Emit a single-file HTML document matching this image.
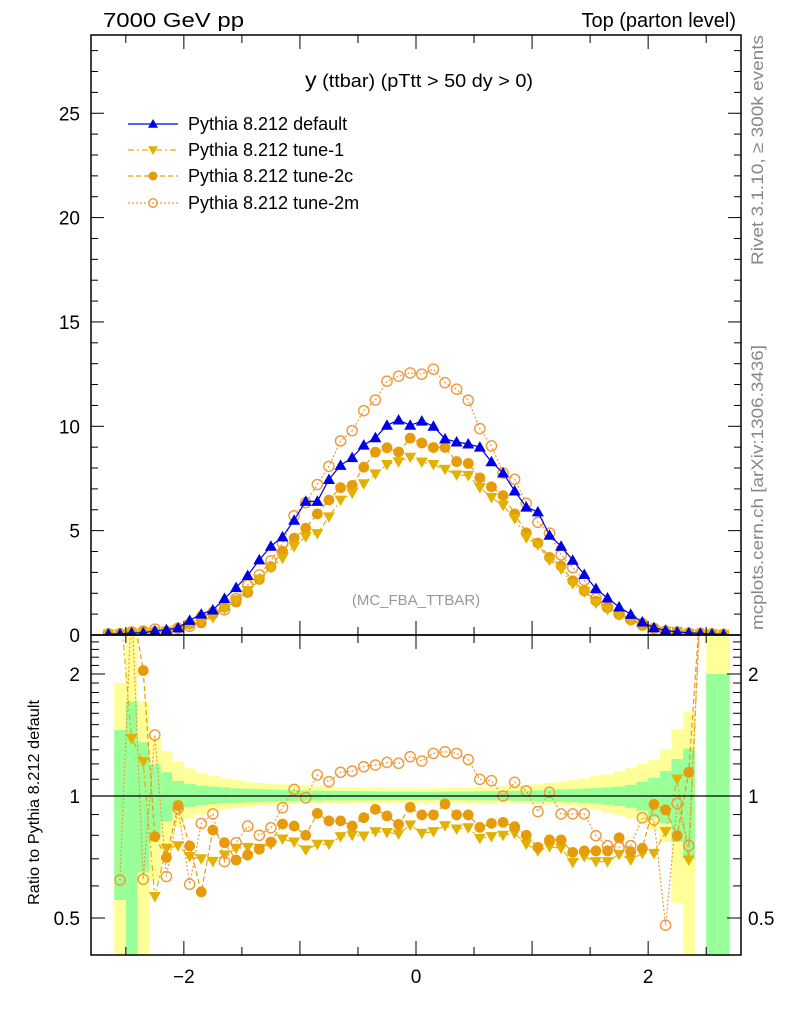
<!DOCTYPE html>
<html><head><meta charset="utf-8"><style>
body{margin:0;background:#fff}
svg text{font-family:"Liberation Sans",sans-serif}
</style></head><body>
<svg id="c" width="786" height="1024" viewBox="0 0 786 1024" xmlns="http://www.w3.org/2000/svg">
<defs>
<clipPath id="cm"><rect x="91" y="35" width="650" height="600"/></clipPath>
<clipPath id="cr"><rect x="91" y="635" width="650" height="320"/></clipPath>
</defs>
<g id="bands" clip-path="url(#cr)"></g>
<g id="ratio" clip-path="url(#cr)"></g>
<g id="main" clip-path="url(#cm)"></g>
<g id="axes"></g>
<text x="103" y="27" font-size="20" textLength="141" lengthAdjust="spacingAndGlyphs">7000 GeV pp</text>
<text x="736" y="27" font-size="20" text-anchor="end">Top (parton level)</text>
<text x="305" y="87" font-size="18" textLength="228" lengthAdjust="spacingAndGlyphs"><tspan font-size="21">y</tspan> (ttbar) (pTtt &gt; 50 dy &gt; 0)</text>
<text x="416" y="605" font-size="15" fill="#999" text-anchor="middle">(MC_FBA_TTBAR)</text>
<text transform="translate(763,265) rotate(-90)" font-size="17" fill="#888" textLength="230" lengthAdjust="spacingAndGlyphs">Rivet 3.1.10, ≥ 300k events</text>
<text transform="translate(763,630) rotate(-90)" font-size="17" fill="#888" textLength="285" lengthAdjust="spacingAndGlyphs">mcplots.cern.ch [arXiv:1306.3436]</text>
<text transform="translate(39,905) rotate(-90)" font-size="16" textLength="205" lengthAdjust="spacingAndGlyphs">Ratio to Pythia 8.212 default</text>
<g id="legend"></g>
</svg>
<script>
const centers=[-2.65,-2.55,-2.45,-2.35,-2.25,-2.15,-2.05,-1.95,-1.85,-1.75,-1.65,-1.55,-1.45,-1.35,-1.25,-1.15,-1.05,-0.95,-0.85,-0.75,-0.65,-0.55,-0.45,-0.35,-0.25,-0.15,-0.05,0.05,0.15,0.25,0.35,0.45,0.55,0.65,0.75,0.85,0.95,1.05,1.15,1.25,1.35,1.45,1.55,1.65,1.75,1.85,1.95,2.05,2.15,2.25,2.35,2.45,2.55,2.65];
const vDefault=[0.05,0.05,0.1,0.1,0.2,0.25,0.34,0.7,1.0,1.2,1.75,2.27,2.85,3.6,4.25,4.7,5.5,6.4,6.4,7.45,8.13,8.5,9.1,9.45,10.05,10.3,10.05,10.25,10.0,9.4,9.25,9.15,9.0,8.3,7.76,6.9,6.13,5.9,4.78,4.25,3.58,2.9,2.22,1.77,1.34,0.99,0.62,0.35,0.22,0.15,0.1,0.08,0.05,0.03];
const vTune1=[0.05,0.05,0.1,0.1,0.11,0.19,0.26,0.5,0.7,0.83,1.25,1.69,2.13,2.67,3.23,3.68,4.24,4.71,4.86,5.66,6.46,6.8,7.25,7.72,8.17,8.3,8.52,8.29,8.17,7.94,7.67,7.64,7.07,6.59,6.21,5.58,4.66,4.32,3.59,3.16,2.46,2.06,1.53,1.22,0.96,0.69,0.45,0.25,0.18,0.17,0.07,0.05,0.04,0.03];
const vTune2c=[0.05,0.08,0.1,0.2,0.16,0.18,0.32,0.53,0.58,0.99,1.34,1.58,2.04,2.66,3.27,4.01,4.64,5.12,5.8,6.47,7.06,7.17,8.04,8.76,8.97,8.77,9.43,9.2,8.98,8.99,8.31,8.22,7.53,7.1,6.68,5.8,4.9,4.41,3.72,3.31,2.6,2.12,1.63,1.3,1.06,0.72,0.46,0.33,0.2,0.12,0.11,0.1,0.06,0.04];
const vTune2m=[0.05,0.03,0.15,0.06,0.28,0.16,0.32,0.42,0.86,1.08,1.21,1.74,2.4,2.88,3.55,4.4,5.71,6.34,7.21,8.08,9.3,9.79,10.75,11.26,12.16,12.4,12.56,12.5,12.74,12.09,11.78,11.25,9.89,9.06,7.76,7.46,6.31,5.4,4.88,3.84,3.23,2.62,1.77,1.33,1.0,0.75,0.55,0.31,0.11,0.14,0.08,0.05,0.05,0.03];
const rTune1=[null,3,1.387,1.215,0.565,0.743,0.754,0.709,0.70,0.69,0.715,0.743,0.747,0.743,0.76,0.783,0.77,0.736,0.76,0.76,0.794,0.80,0.797,0.817,0.813,0.806,0.848,0.809,0.817,0.845,0.829,0.835,0.786,0.794,0.80,0.809,0.76,0.732,0.75,0.743,0.686,0.709,0.689,0.689,0.718,0.695,0.722,0.722,0.817,1.101,0.695,3,null,null];
const rTune2c=[null,3,3,2.04,0.794,0.705,0.947,0.753,0.58,0.824,0.767,0.695,0.715,0.739,0.77,0.853,0.843,0.80,0.906,0.868,0.868,0.843,0.884,0.927,0.893,0.851,0.938,0.898,0.898,0.956,0.898,0.898,0.837,0.856,0.861,0.84,0.80,0.747,0.779,0.779,0.726,0.732,0.732,0.732,0.789,0.729,0.743,0.954,0.924,0.798,1.144,3,null,null];
const rTune2m=[null,0.62,3,0.623,1.414,0.633,0.932,0.606,0.856,0.903,0.689,0.767,0.843,0.80,0.835,0.936,1.038,0.99,1.127,1.085,1.144,1.152,1.181,1.192,1.21,1.204,1.25,1.22,1.274,1.286,1.274,1.23,1.099,1.091,1.0,1.081,1.029,0.915,1.021,0.903,0.903,0.903,0.798,0.754,0.747,0.754,0.884,0.873,0.48,0.959,0.754,3,null,null];
const greenUp=[null,1.455,1.71,1.357,1.197,1.144,1.089,1.07,1.06,1.055,1.05,1.045,1.042,1.04,1.038,1.036,1.035,1.033,1.031,1.03,1.029,1.028,1.027,1.026,1.025,1.025,1.025,1.025,1.025,1.025,1.026,1.026,1.027,1.028,1.029,1.03,1.031,1.033,1.036,1.038,1.04,1.043,1.046,1.05,1.055,1.065,1.085,1.11,1.153,1.234,1.31,null,2.0,2.0];
const greenDn=[null,0.554,0.3,0.648,0.79,0.864,0.918,0.94,0.95,0.955,0.96,0.962,0.965,0.967,0.968,0.97,0.972,0.973,0.974,0.975,0.975,0.976,0.976,0.977,0.977,0.977,0.977,0.977,0.977,0.977,0.977,0.976,0.976,0.975,0.975,0.974,0.973,0.972,0.97,0.968,0.965,0.962,0.958,0.952,0.945,0.935,0.92,0.884,0.855,0.77,0.70,null,0.3,0.3];
const yellowUp=[null,1.90,3,1.71,1.388,1.29,1.215,1.17,1.14,1.12,1.105,1.095,1.085,1.078,1.072,1.068,1.064,1.06,1.057,1.054,1.051,1.049,1.047,1.046,1.045,1.045,1.045,1.045,1.045,1.046,1.047,1.049,1.051,1.054,1.057,1.06,1.064,1.07,1.078,1.085,1.095,1.105,1.12,1.13,1.15,1.175,1.2,1.227,1.306,1.46,1.61,null,3,3];
const yellowDn=[null,0.3,0.3,0.3,0.62,0.73,0.84,0.88,0.90,0.915,0.925,0.935,0.94,0.945,0.95,0.952,0.955,0.957,0.958,0.959,0.96,0.96,0.96,0.96,0.96,0.96,0.96,0.96,0.96,0.96,0.96,0.96,0.96,0.96,0.959,0.958,0.957,0.955,0.952,0.948,0.943,0.935,0.925,0.91,0.895,0.88,0.86,0.824,0.77,0.545,0.3,null,0.3,0.3];
const mainTicks=[0,5,10,15,20,25];
const ratioTicks=[0.5,1,2];
const xTicks=[-2,0,2];

const NS="http://www.w3.org/2000/svg";
const X0=91,X1=741,XMIN=-2.8,XMAX=2.8;
const xs=v=>X0+(v-XMIN)/(XMAX-XMIN)*(X1-X0);
const ym=v=>635-v*20.87;
const yr=r=>796-Math.log10(r)*405.3;
function mk(tag,attrs,parent){const e=document.createElementNS(NS,tag);for(const k in attrs)e.setAttribute(k,attrs[k]);parent.appendChild(e);return e;}
const gB=document.getElementById('bands'),gR=document.getElementById('ratio'),gM=document.getElementById('main'),gA=document.getElementById('axes'),gL=document.getElementById('legend');
const W=0.1;
centers.forEach((c,i)=>{
  if(yellowUp[i]==null)return;
  const x=xs(c-W/2),w=xs(c+W/2)-x;
  let r=mk('rect',{x:x,y:yr(yellowUp[i]),width:w+0.3,height:yr(yellowDn[i])-yr(yellowUp[i]),fill:'#ffff99'},gB);
  
  
  r=mk('rect',{x:x,y:yr(greenUp[i]),width:w+0.3,height:yr(greenDn[i])-yr(greenUp[i]),fill:'#99ff99'},gB);
  
  
});
const series=[
 {name:'default',col:'#0000e6',dash:'',m:'up',main:vDefault,ratio:null},
 {name:'tune-1',col:'#e3b100',dash:'6,3,2,3',m:'down',main:vTune1,ratio:rTune1},
 {name:'tune-2c',col:'#e69b0a',dash:'5,3',m:'dot',main:vTune2c,ratio:rTune2c},
 {name:'tune-2m',col:'#ee9a3c',dash:'2,2',m:'open',main:vTune2m,ratio:rTune2m}
];
function marker(type,x,y,col,parent,s){
  let e;
  if(type==='up')e=mk('polygon',{points:`${x},${y-s} ${x-s},${y+s*0.75} ${x+s},${y+s*0.75}`,fill:col},parent);
  else if(type==='down')e=mk('polygon',{points:`${x},${y+s} ${x-s},${y-s*0.75} ${x+s},${y-s*0.75}`,fill:col},parent);
  else if(type==='dot')e=mk('circle',{cx:x,cy:y,r:s*0.9,fill:col},parent);
  else e=mk('circle',{cx:x,cy:y,r:s*0.85,fill:'none',stroke:col,'stroke-width':1.4},parent);
  return e;
}
series.slice(1).forEach(s=>{
  let d='';
  s.ratio.forEach((v,i)=>{if(v==null)return;d+=(d?'L':'M')+xs(centers[i]).toFixed(1)+','+yr(v).toFixed(1);});
  const p=mk('path',{d:d,fill:'none',stroke:s.col,'stroke-width':1.2,'stroke-dasharray':s.dash},gR);
  
  
  s.ratio.forEach((v,i)=>{if(v==null)return;
    const m=marker(s.m,xs(centers[i]),yr(v),s.col,gR,6);
    
    
  });
});
[3,2,1,0].forEach(k=>{const s=series[k];
  let d='';
  s.main.forEach((v,i)=>{d+=(d?'L':'M')+xs(centers[i]).toFixed(1)+','+ym(v).toFixed(1);});
  const p=mk('path',{d:d,fill:'none',stroke:s.col,'stroke-width':1.2,'stroke-dasharray':s.dash},gM);
  
  
  s.main.forEach((v,i)=>{
    const m=marker(s.m,xs(centers[i]),ym(v),s.col,gM,6);
    
    
  });
});
let l1=mk('line',{x1:X0,x2:X1,y1:yr(1),y2:yr(1),stroke:'#000','stroke-width':1.3},gA);


let f=mk('rect',{x:X0,y:35,width:X1-X0,height:600,fill:'none',stroke:'#000','stroke-width':1.5},gA);


f=mk('rect',{x:X0,y:635,width:X1-X0,height:320,fill:'none',stroke:'#000','stroke-width':1.5},gA);


function tick(x1,y1,x2,y2){mk('line',{x1:x1,y1:y1,x2:x2,y2:y2,stroke:'#000','stroke-width':1},gA);}
for(let v=0;v<=28;v++){const y=ym(v);const L=v%5===0?13:7;tick(X0,y,X0+L,y);tick(X1,y,X1-L,y);}
mainTicks.forEach(v=>{const t=mk('text',{x:80,y:ym(v)+7,'font-size':19,'text-anchor':'end'},gA);t.textContent=v;
  
  });
const rmin=[0.4,0.5,0.6,0.7,0.8,0.9,1,1.1,1.2,1.3,1.4,1.5,1.6,1.7,1.8,1.9,2,2.1,2.2,2.3,2.4,2.5];
rmin.forEach(r=>{const y=yr(r);if(y<635||y>955)return;const L=(r===0.5||r===1||r===2)?14:8;tick(X0,y,X0+L,y);tick(X1,y,X1-L,y);});
ratioTicks.forEach(r=>{
  let t=mk('text',{x:80,y:yr(r)+7,'font-size':19,'text-anchor':'end'},gA);t.textContent=r;
  
  
  t=mk('text',{x:748,y:yr(r)+7,'font-size':19},gA);t.textContent=r;
  
  
});
for(let k=-5;k<=5;k++){const v=k*0.5;const x=xs(v);const L=(k%2===0)?14:8;
  tick(x,635,x,635-L);tick(x,35,x,35+L);tick(x,955,x,955-L);tick(x,635,x,635+L);}
xTicks.forEach(v=>{const t=mk('text',{x:xs(v),y:983,'font-size':19,'text-anchor':'middle'},gA);t.textContent=v<0?'\u2212'+(-v):v;
  
  });
const ly=[124,150,176,203];
series.forEach((s,i)=>{
  const y=ly[i];
  const ln=mk('line',{x1:128,x2:178,y1:y,y2:y,stroke:s.col,'stroke-width':1.2,'stroke-dasharray':s.dash},gL);
  
  
  const m=marker(s.m,153,y,s.col,gL,5);
  
  
  const t=mk('text',{x:188,y:y+6,'font-size':18},gL);t.textContent='Pythia 8.212 '+s.name;
  
  
});
</script>
</body></html>
